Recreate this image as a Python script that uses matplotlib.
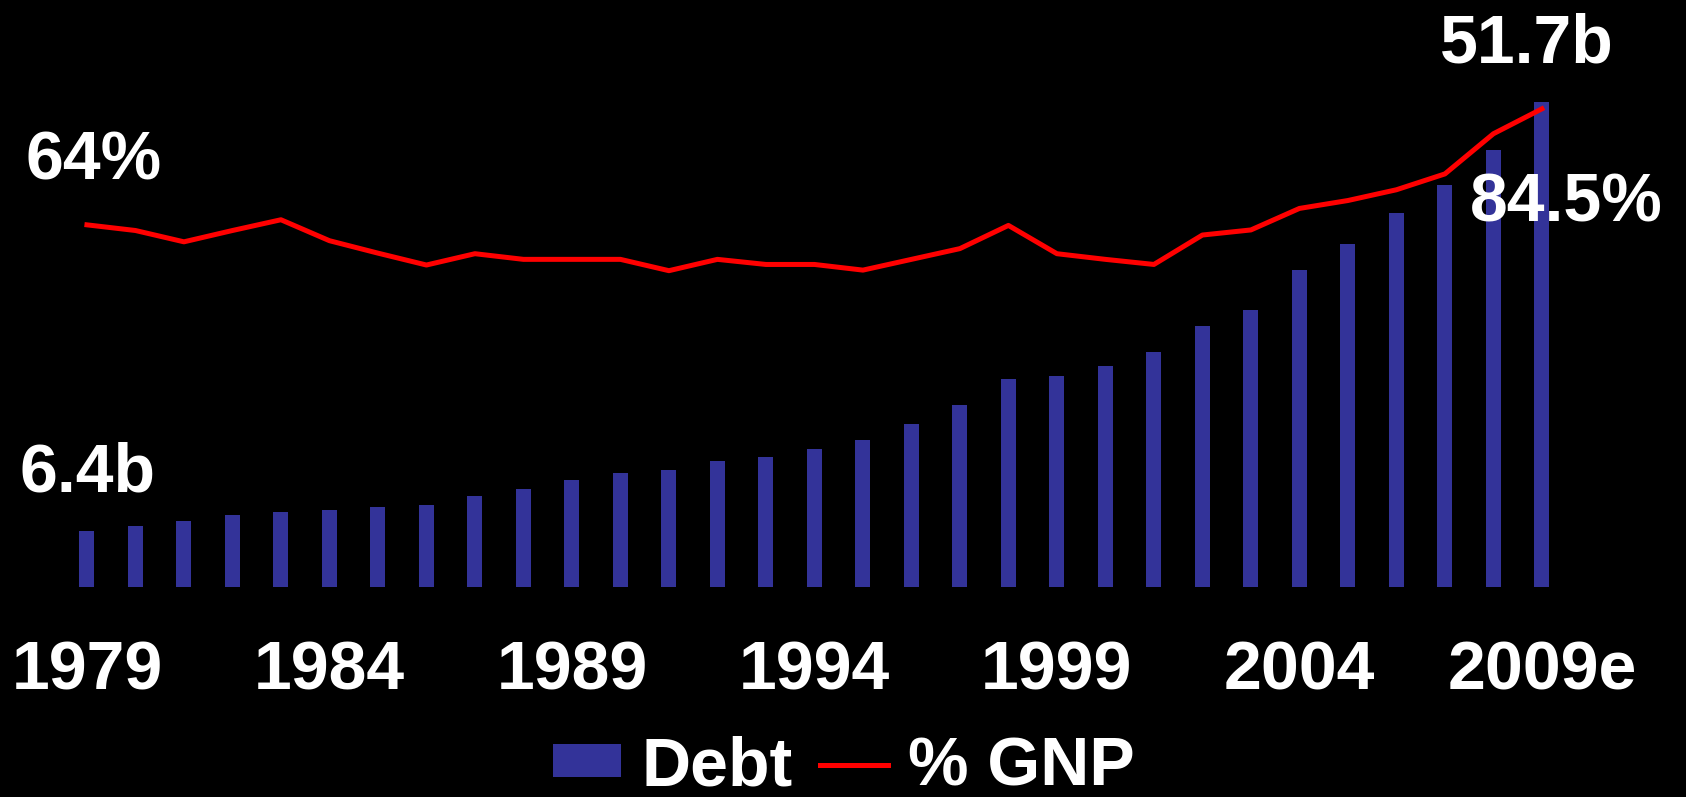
import matplotlib
matplotlib.use("Agg")
import matplotlib.pyplot as plt
from matplotlib.patches import Patch
from matplotlib.lines import Line2D

years = list(range(1979, 2010))
debt = [6.4, 7.0, 7.5, 8.1, 8.4, 8.7, 9.0, 9.2, 10.1, 10.9, 11.8, 12.6, 12.9, 13.8,
        14.3, 15.1, 16.0, 17.7, 19.7, 22.5, 22.8, 23.9, 25.3, 28.1, 29.8, 34.0,
        36.8, 40.0, 43.0, 46.7, 51.7]
gnp_pct = [64.0, 63.0, 61.0, 63.0, 64.9, 61.2, 59.0, 56.9, 58.9, 57.9, 57.9, 57.9,
           55.9, 57.9, 57.0, 57.0, 56.0, 57.9, 59.8, 63.9, 58.9, 57.9, 57.0, 62.2,
           63.1, 66.9, 68.3, 70.2, 73.0, 80.1, 84.5]
tick_labels = ["1979", "1984", "1989", "1994", "1999", "2004", "2009e"]
legend_labels = ["Debt", "% GNP"]

BAR_COLOR = "#333399"
LINE_COLOR = "#FF0000"
FONT = ["Liberation Sans", "DejaVu Sans"]
FS = 49

plt.rcParams['font.family'] = FONT
plt.rcParams['font.weight'] = 'bold'

fig = plt.figure(figsize=(16.86, 7.97), dpi=100, facecolor="black")
ax = fig.add_axes([0.0228, 0.2635, 0.9205, 0.7114])
ax.set_facecolor("black")
x = list(range(len(years)))
ax.bar(x, debt, width=0.31, color=BAR_COLOR, zorder=2)
ax.set_xlim(-1, 31)
ax.set_ylim(0.53, 60.4)

ax2 = ax.twinx()
ax2.plot(x, gnp_pct, color=LINE_COLOR, linewidth=3.6, zorder=3)
ax2.set_ylim(0, 100.2)

for a in (ax, ax2):
    for s in a.spines.values():
        s.set_visible(False)
    a.set_yticks([])
ax.set_xticks([0, 5, 10, 15, 20, 25, 30])
ax.set_xticklabels(tick_labels, fontsize=FS, fontweight='bold', color='white')
ax.tick_params(axis='x', length=0, pad=38)

# data labels
ax2.annotate("64%", xy=(x[0], gnp_pct[0]), xytext=(7, 45), textcoords='offset pixels',
             ha='center', va='baseline', fontsize=FS, fontweight='bold', color='white')
ax.annotate("6.4b", xy=(x[0], debt[0]), xytext=(1, 40), textcoords='offset pixels',
            ha='center', va='baseline', fontsize=FS, fontweight='bold', color='white')
ax.annotate("51.7b", xy=(x[-1], debt[-1]), xytext=(-15, 40), textcoords='offset pixels',
            ha='center', va='baseline', fontsize=FS, fontweight='bold', color='white')
ax2.annotate("84.5%", xy=(x[-1], gnp_pct[-1]), xytext=(24, -113), textcoords='offset pixels',
             ha='center', va='baseline', fontsize=FS, fontweight='bold', color='white',
             zorder=5)

handles = [Patch(facecolor=BAR_COLOR, edgecolor='none'),
           Line2D([0], [0], color=LINE_COLOR, linewidth=3.6)]
leg = fig.legend(handles, legend_labels, loc='center', bbox_to_anchor=(0.5006, 0.0376),
                 ncol=2, frameon=False, prop={'weight': 'bold', 'size': FS},
                 handlelength=1.0, handleheight=0.36, handletextpad=0.3, columnspacing=0.4,
                 borderpad=0, borderaxespad=0)
for t in leg.get_texts():
    t.set_color('white')

fig.savefig("out.png", dpi=100, facecolor="black")
